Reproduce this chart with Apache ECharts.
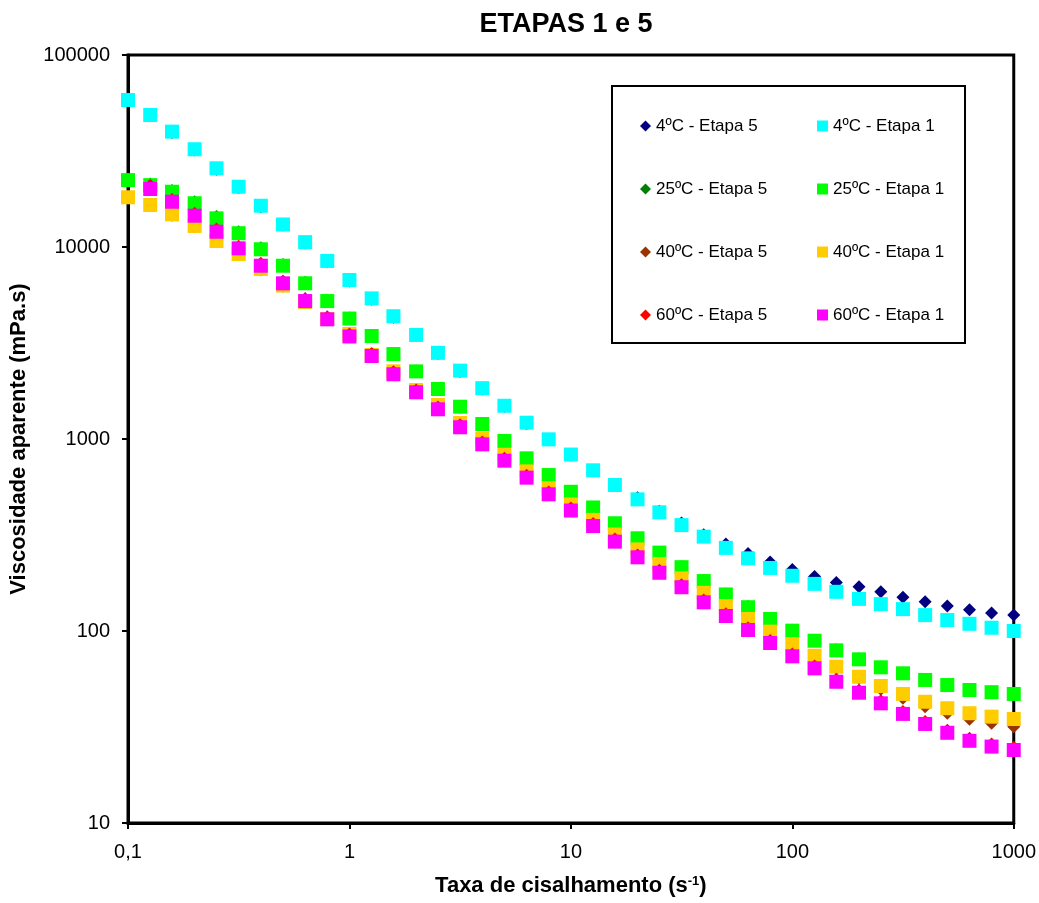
<!DOCTYPE html>
<html>
<head>
<meta charset="utf-8">
<script src="https://cdn.jsdelivr.net/npm/echarts@6/dist/echarts.min.js"></script>
<style>
html,body{margin:0;padding:0;background:#fff;}
#chart{width:1039px;height:903px;}
</style>
</head>
<body>
<div id="chart"></div>
<script>
// Shear rate (s-1)
const shearRates = [0.1, 0.126, 0.158, 0.2, 0.251, 0.316, 0.398, 0.501, 0.631, 0.794,
  1, 1.26, 1.58, 2, 2.51, 3.16, 3.98, 5.01, 6.31, 7.94,
  10, 12.6, 15.8, 20, 25.1, 31.6, 39.8, 50.1, 63.1, 79.4,
  100, 126, 158, 200, 251, 316, 398, 501, 631, 794, 1000];

// Apparent viscosity (mPa.s)
const t4_e5 = [57700, 48200, 39500, 32000, 25400, 20400, 16200, 13000, 10500, 8380,
  6660, 5350, 4310, 3450, 2790, 2250, 1820, 1480, 1205, 990,
  825, 684, 575, 495, 420, 365, 317, 284, 253, 229,
  209, 192, 179, 170, 160, 150, 142, 135, 129, 124, 121];
const t4_e1 = [58300, 48700, 39900, 32300, 25700, 20600, 16400, 13100, 10600, 8460,
  6730, 5400, 4360, 3480, 2810, 2270, 1840, 1490, 1216, 996,
  830, 687, 576, 485, 415, 356, 310, 271, 239, 213,
  194, 176, 160, 147, 138, 130, 121, 114, 109, 104, 100];
const t25_e5 = [22500, 21300, 19700, 17200, 14400, 12000, 9900, 8100, 6550, 5280,
  4270, 3460, 2780, 2260, 1825, 1476, 1199, 978, 795, 650,
  532, 441, 365, 305, 257, 216, 183, 156, 134, 116,
  101, 89.5, 79.8, 71.6, 65.0, 60.4, 55.8, 52.5, 49.5, 48.1, 47.1];
const t25_e1 = [22300, 21000, 19400, 16900, 14100, 11800, 9730, 7990, 6470, 5230,
  4240, 3440, 2770, 2250, 1821, 1473, 1197, 976, 793, 649,
  531, 440, 364, 304, 256, 215, 182, 155, 133, 115.5,
  100.4, 89.0, 79.3, 71.2, 64.7, 60.2, 55.6, 52.3, 49.3, 48.0, 47.0];
const t40_e5 = [18000, 16400, 14650, 12740, 10640, 9100, 7600, 6240, 5120, 4175,
  3490, 2710, 2230, 1782, 1488, 1200, 995, 820, 671, 548,
  451, 375, 315, 263, 221, 186, 156, 134, 114, 98,
  83.2, 72.6, 63.7, 56.5, 49.7, 44.6, 40.3, 37.3, 34.7, 33.1, 31.7];
const t40_e1 = [18150, 16550, 14800, 12870, 10750, 9190, 7680, 6300, 5170, 4217,
  3523, 2738, 2252, 1800, 1503, 1212, 1005, 828, 678, 554,
  456, 379, 318, 266, 223, 188, 158, 135, 115.5, 99.2,
  85.2, 74.3, 65.2, 57.8, 51.7, 47.0, 42.8, 39.6, 37.3, 35.8, 34.8];
const t60_e5 = [null, 21000, 17700, 15000, 12400, 10100, 8230, 6660, 5390, 4330,
  3520, 2790, 2240, 1800, 1470, 1186, 966, 794, 648, 530,
  437, 363, 301, 249, 207, 174, 145, 123, 104, 89.2,
  76.0, 65.8, 56.0, 49.1, 43.3, 38.1, 33.8, 30.4, 27.6, 25.8, 24.8];
const t60_e1 = [null, 20050, 17210, 14550, 12010, 9840, 7990, 6470, 5230, 4200,
  3420, 2706, 2173, 1751, 1428, 1151, 938, 771, 629, 515,
  424, 352, 292, 242, 201, 169, 141, 119.7, 101.2, 86.6,
  73.8, 63.9, 54.4, 47.7, 42.0, 37.0, 32.8, 29.5, 26.8, 25.0, 24.0];

const seriesNames = ['4ºC - Etapa 5', '4ºC - Etapa 1', '25ºC - Etapa 5', '25ºC - Etapa 1',
  '40ºC - Etapa 5', '40ºC - Etapa 1', '60ºC - Etapa 5', '60ºC - Etapa 1'];
const xTickValues = [0.1, 1, 10, 100, 1000];
const yTickValues = [10, 100, 1000, 10000, 100000];

const FONT = '"Liberation Sans", Arial, sans-serif';
const seriesDefs = [
  {name: seriesNames[0], values: t4_e5, color: '#000080', symbol: 'diamond'},
  {name: seriesNames[1], values: t4_e1, color: '#00FFFF', symbol: 'rect'},
  {name: seriesNames[2], values: t25_e5, color: '#008000', symbol: 'diamond'},
  {name: seriesNames[3], values: t25_e1, color: '#00FF00', symbol: 'rect'},
  {name: seriesNames[4], values: t40_e5, color: '#993300', symbol: 'diamond'},
  {name: seriesNames[5], values: t40_e1, color: '#FFCC00', symbol: 'rect'},
  {name: seriesNames[6], values: t60_e5, color: '#FF0000', symbol: 'diamond'},
  {name: seriesNames[7], values: t60_e1, color: '#FF00FF', symbol: 'rect'}
];

function pairs(values) {
  const out = [];
  values.forEach((v, i) => { if (v !== null) out.push([shearRates[i], v]); });
  return out;
}

const chart = echarts.init(document.getElementById('chart'), null, {renderer: 'canvas'});

const legendText = {fontSize: 17, fontFamily: FONT, color: '#000', lineHeight: 20};

const option = {
  animation: false,
  backgroundColor: '#fff',
  title: {
    text: 'ETAPAS 1 e 5',
    left: 561, top: 6, textAlign: 'center',
    textStyle: {fontSize: 27, fontWeight: 'bold', fontFamily: FONT, color: '#000'}
  },
  grid: {left: 127, right: 25, top: 55, bottom: 80, show: true, borderColor: '#000', borderWidth: 3, backgroundColor: '#fff'},
  xAxis: {
    type: 'log', logBase: 10, min: 0.1, max: 1000,
    name: 'Taxa de cisalhamento (s{sup|-1})',
    nameLocation: 'middle', nameGap: 52,
    nameTextStyle: {fontSize: 22, fontWeight: 'bold', fontFamily: FONT, color: '#000',
      rich: {sup: {fontSize: 13, fontWeight: 'bold', fontFamily: FONT, color: '#000', verticalAlign: 'top', padding: [0, 0, 8, 0]}}},
    axisLine: {show: true, onZero: false, lineStyle: {color: '#000', width: 3}},
    axisTick: {show: true, inside: false, length: 6, lineStyle: {color: '#000', width: 2}, customValues: xTickValues},
    minorTick: {show: false},
    splitLine: {show: false},
    axisLabel: {fontSize: 20, fontFamily: FONT, color: '#000', margin: 19,
      customValues: xTickValues,
      formatter: v => String(Number(Number(v).toPrecision(6))).replace('.', ',')}
  },
  yAxis: {
    type: 'log', logBase: 10, min: 10, max: 100000,
    name: 'Viscosidade aparente (mPa.s)',
    nameLocation: 'middle', nameGap: 98,
    nameTextStyle: {fontSize: 22, fontWeight: 'bold', fontFamily: FONT, color: '#000'},
    axisLine: {show: true, onZero: false, lineStyle: {color: '#000', width: 3}},
    axisTick: {show: true, inside: false, length: 6, lineStyle: {color: '#000', width: 2}, customValues: yTickValues},
    minorTick: {show: false},
    splitLine: {show: false},
    axisLabel: {fontSize: 20, fontFamily: FONT, color: '#000', margin: 18,
      customValues: yTickValues,
      formatter: v => String(Number(Number(v).toPrecision(6)))}
  },
  legend: [
    {
      orient: 'vertical', left: 635, top: 111, itemGap: 43, itemWidth: 11, itemHeight: 11,
      data: [seriesNames[0], seriesNames[2], seriesNames[4], seriesNames[6]],
      textStyle: legendText, selectedMode: false
    },
    {
      orient: 'vertical', left: 812, top: 111, itemGap: 43, itemWidth: 11, itemHeight: 11,
      data: [seriesNames[1], seriesNames[3], seriesNames[5], seriesNames[7]],
      textStyle: legendText, selectedMode: false
    }
  ],
  graphic: [{
    type: 'rect', z: 50,
    shape: {x: 612, y: 86, width: 353, height: 257},
    style: {fill: 'none', stroke: '#000', lineWidth: 2}
  }],
  series: seriesDefs.map(d => ({
    name: d.name,
    type: 'scatter',
    symbol: d.symbol,
    symbolSize: d.symbol === 'rect' ? 14 : 13,
    itemStyle: {color: d.color, opacity: 1},
    emphasis: {disabled: true},
    data: pairs(d.values)
  }))
};

chart.setOption(option);
</script>
</body>
</html>
